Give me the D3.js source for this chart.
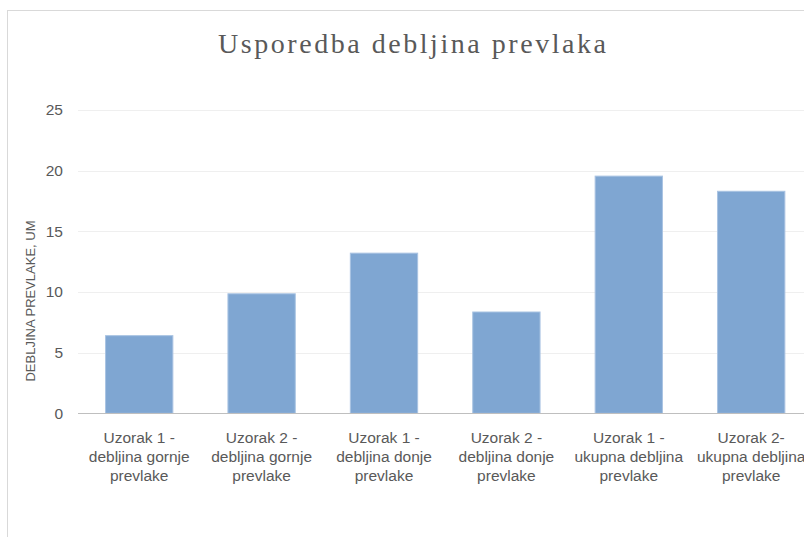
<!DOCTYPE html>
<html>
<head>
<meta charset="utf-8">
<script src="https://cdn.jsdelivr.net/npm/d3@7"></script>
<style>
  body { margin: 0; background: #fff; overflow: hidden; }
  svg { display: block; }
</style>
</head>
<body>
<script>
// data
var categories = [
  ["Uzorak 1 -", "debljina gornje", "prevlake"],
  ["Uzorak 2 -", "debljina gornje", "prevlake"],
  ["Uzorak 1 -", "debljina donje", "prevlake"],
  ["Uzorak 2 -", "debljina donje", "prevlake"],
  ["Uzorak 1 -", "ukupna debljina", "prevlake"],
  ["Uzorak 2-", "ukupna debljina", "prevlake"]
];
var values = [6.4, 9.85, 13.2, 8.35, 19.55, 18.3];
var yTicks = [0, 5, 10, 15, 20, 25];
var title = "Usporedba debljina prevlaka";
var yTitle = "DEBLJINA PREVLAKE, UM";

var W = 804, H = 537;
var font = "'Liberation Sans', Arial, sans-serif";
var svg = d3.select("body").append("svg")
  .attr("width", W).attr("height", H);

// chart frame
svg.append("rect")
  .attr("x", 7.5).attr("y", 10.5)
  .attr("width", 900).attr("height", 700)
  .attr("fill", "#fff")
  .attr("stroke", "#d9d9d9");

var x = d3.scaleBand()
  .domain(d3.range(categories.length))
  .range([78, 812.4])
  .paddingInner(0.45).paddingOuter(0.225);

var y = d3.scaleLinear().domain([0, 25]).range([413.3, 110]);

// gridlines
svg.append("g").selectAll("line")
  .data(yTicks.slice(1))
  .enter().append("line")
  .attr("x1", 78).attr("x2", W)
  .attr("y1", function(d) { return Math.round(y(d)) + 0.5; })
  .attr("y2", function(d) { return Math.round(y(d)) + 0.5; })
  .attr("stroke", "#efefef");

// y axis labels
var yAxis = svg.append("g")
  .attr("transform", "translate(63,0)")
  .call(d3.axisLeft(y).tickValues(yTicks).tickSize(0).tickPadding(0));
yAxis.select(".domain").remove();
yAxis.selectAll("text")
  .style("font-family", font)
  .style("font-size", "15.5px")
  .attr("fill", "#595959");

// bars
svg.append("g").selectAll("rect")
  .data(values)
  .enter().append("rect")
  .attr("x", function(d, i) { return x(i); })
  .attr("y", function(d) { return y(d); })
  .attr("width", x.bandwidth())
  .attr("height", function(d) { return y(0) - y(d); })
  .attr("fill", "#7fa6d2")
  .attr("stroke", "#a9c3e2")
  .attr("stroke-width", 1);

// baseline
svg.append("line")
  .attr("x1", 78).attr("x2", W)
  .attr("y1", 413.5).attr("y2", 413.5)
  .attr("stroke", "#bfbfbf");

// category labels
var lab = svg.append("g").selectAll("text")
  .data(categories)
  .enter().append("text")
  .attr("x", function(d, i) { return x(i) + x.bandwidth() / 2; })
  .attr("y", 443)
  .attr("text-anchor", "middle")
  .style("font-family", font)
  .style("font-size", "15.5px")
  .attr("fill", "#595959");
lab.selectAll("tspan")
  .data(function(d) { return d; })
  .enter().append("tspan")
  .attr("x", function() { return d3.select(this.parentNode).attr("x"); })
  .attr("dy", function(d, i) { return i === 0 ? 0 : 19; })
  .text(function(d) { return d; });

// axis title
svg.append("text")
  .attr("transform", "translate(35,301) rotate(-90)")
  .attr("text-anchor", "middle")
  .style("font-family", font)
  .style("font-size", "13px")
  .attr("fill", "#595959")
  .text(yTitle);

// title
svg.append("text")
  .attr("x", 218).attr("y", 53)
  .attr("textLength", 388)
  .attr("lengthAdjust", "spacing")
  .style("font-family", "'Liberation Serif', serif")
  .style("font-size", "28px")
  .attr("fill", "#595959")
  .text(title);
</script>
</body>
</html>
